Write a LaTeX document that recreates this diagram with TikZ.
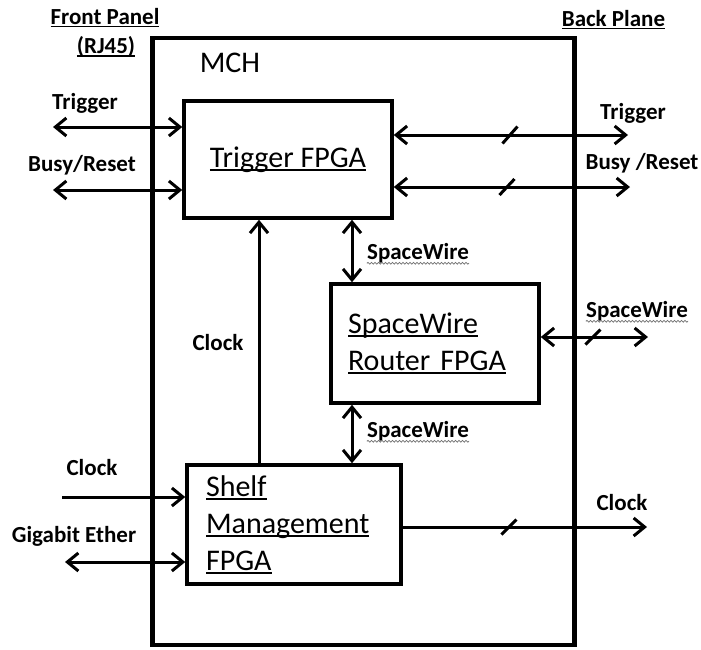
\documentclass[tikz,border=0pt]{standalone}
\usepackage{fontspec}
\setmainfont{Carlito}
\usetikzlibrary{arrows.meta,decorations.pathmorphing}

% underline drawn under a piece of text, crossing the descenders
\newcommand\ulx[1]{\leavevmode\setbox0\hbox{#1}\rlap{\rule[-0.12em]{\wd0}{0.06em}}\box0}

\tikzset{
  blk/.style={draw, line width=3.5pt, rectangle, inner sep=0pt},
  boxtext/.style={font=\fontsize{30}{37}\selectfont},
  lbl/.style={font=\bfseries\fontsize{23}{28}\selectfont, inner sep=0pt},
  wire/.style={line width=3pt},
  dbl/.style={wire, {Straight Barb[length=11pt,width=18pt,line width=3pt]}-{Straight Barb[length=11pt,width=18pt,line width=3pt]}},
  one/.style={wire, -{Straight Barb[length=11pt,width=18pt,line width=3pt]}},
  bus/.style={line width=3pt},
  wavy/.style={draw=black!55, line width=0.8pt, decorate,
    decoration={snake, amplitude=0.9pt, segment length=3.5pt}}
}

\begin{document}
\begin{tikzpicture}[x=1pt, y=-1pt]
\useasboundingbox (0,0) rectangle (701,649);

% MCH enclosure
\node[blk, line width=4.5pt, minimum width=422pt, minimum height=607pt] (mch) at (363.5,341.5) {};
\node[boxtext, inner sep=0pt] (mchlbl) at (230,63) {MCH};

% functional blocks
\node[blk, boxtext, minimum width=208pt, minimum height=117pt] (trig) at (288,159.5) {\ulx{Trigger FPGA}};
\node[blk, boxtext, minimum width=208pt, minimum height=119pt, inner xsep=17pt,
      text width=174pt, align=left] (router) at (435,343.5) {\ulx{SpaceWire}\\\ulx{Router FPGA}};
\node[blk, boxtext, minimum width=214pt, minimum height=119pt, inner xsep=19pt,
      text width=176pt, align=left] (shelf) at (294,524.5) {\ulx{Shelf}\\\ulx{Management}\\\ulx{FPGA}};

% panel headings
\node[lbl] (fp) at (105,18) {\ulx{Front Panel}};
\node[lbl] (rj) at (106,47) {\ulx{(RJ45)}};
\node[lbl] (bp) at (613.5,20) {\ulx{Back Plane}};

% signal labels
\node[lbl] (ltrigl) at (85,103) {Trigger};
\node[lbl] (lbusyl) at (82,165) {Busy/Reset};
\node[lbl] (rtrigl) at (633,113) {Trigger};
\node[lbl] (rbusyl) at (642,163) {Busy /Reset};
\node[lbl] (sw1) at (418,253) {SpaceWire};
\node[lbl] (sw2) at (637,311) {SpaceWire};
\node[lbl] (sw3) at (418,431) {SpaceWire};
\node[lbl] (clkv) at (218,343) {Clock};
\node[lbl] (clkin) at (92,468) {Clock};
\node[lbl] (gbe) at (74,536) {Gigabit Ether};
\node[lbl] (clkout) at (622,503) {Clock};

\foreach \n in {sw1,sw2,sw3}
  \draw[wavy] ([yshift=-4pt]\n.base west) -- ([yshift=-4pt]\n.base east);

% free ends of the external connections
\coordinate (ltrig) at (53,127);
\coordinate (lbusy) at (53,190);
\coordinate (rtrig) at (628,135);
\coordinate (rbusy) at (630,187);
\coordinate (rsw) at (648,337);
\coordinate (lclk) at (62,497);
\coordinate (lgbe) at (65,562);
\coordinate (rclk) at (647,527);
\coordinate (swx) at (352,0);
\coordinate (clkx) at (259,0);

% front panel connections
\draw[dbl] (ltrig) -- (ltrig -| trig.west);
\draw[dbl] (lbusy) -- (lbusy -| trig.west);
\draw[one] (lclk) -- (lclk -| shelf.west);
\draw[dbl] (lgbe) -- (lgbe -| shelf.west);

% back plane connections
\draw[dbl] (rtrig -| trig.east) -- (rtrig);
\draw[dbl] (rbusy -| trig.east) -- (rbusy);
\draw[dbl] (rsw -| router.east) -- (rsw);
\draw[one] (rclk -| shelf.east) -- (rclk);

% bus marks
\draw[bus] (502.5,143.5) -- (517.5,126.5);
\draw[bus] (499.5,195) -- (514.5,179);
\draw[bus] (585.5,344.5) -- (600.5,329.5);
\draw[bus] (501.5,534.5) -- (516.5,519.5);

% internal connections
\draw[dbl] (swx |- trig.south) -- (swx |- router.north);
\draw[dbl] (swx |- router.south) -- (swx |- shelf.north);
\draw[one] (clkx |- shelf.north) -- (clkx |- trig.south);
\end{tikzpicture}
\end{document}
